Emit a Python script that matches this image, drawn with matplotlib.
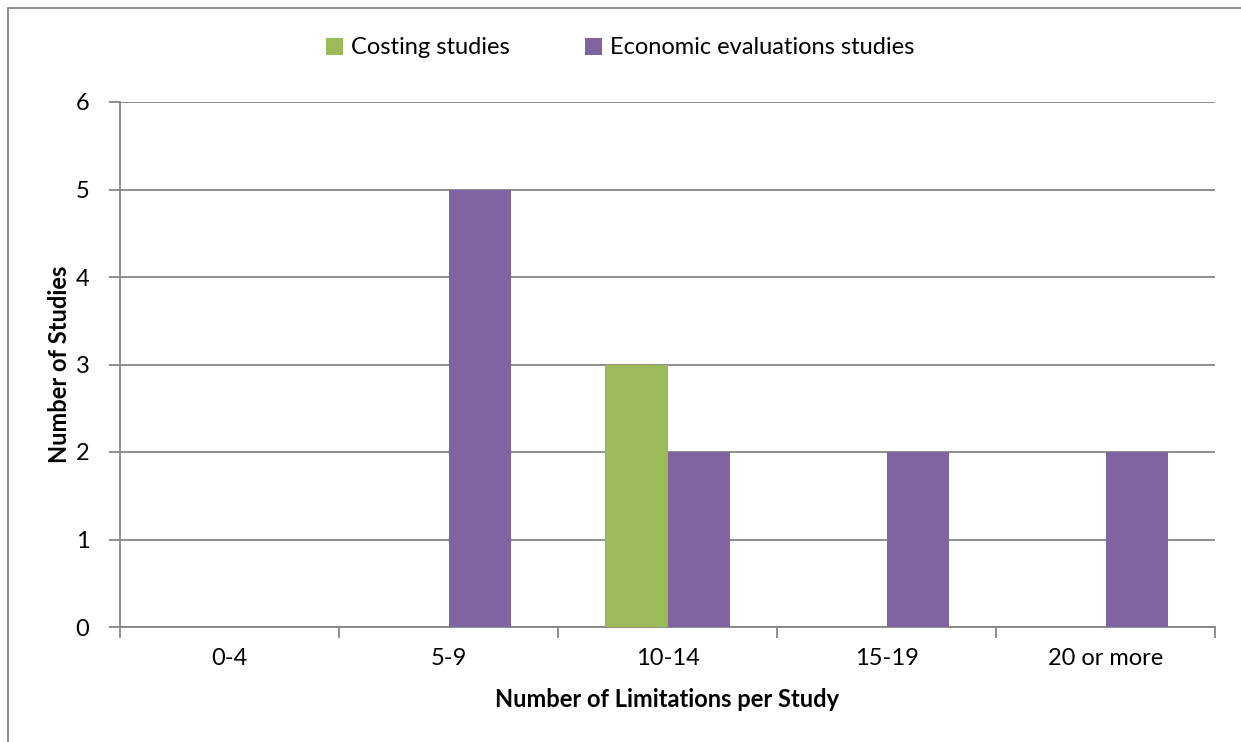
import numpy as np
import matplotlib.pyplot as plt
from matplotlib.patches import Rectangle

plt.rcParams['font.family'] = ['Lato', 'DejaVu Sans']

categories = ['0-4', '5-9', '10-14', '15-19', '20 or more']
costing = [0, 0, 3, 0, 0]
economic = [0, 5, 2, 2, 2]

green = '#9BBB59'
purple = '#8064A2'
grey = '#868686'
fs = 17

fig = plt.figure(figsize=(12.41, 7.42), dpi=100)
ax = fig.add_axes([120 / 1241, 115 / 742, 1095 / 1241, 525 / 742])

x = np.arange(len(categories))
w = 0.285
ax.bar(x - w / 2, costing, w, color=green, label='Costing studies', zorder=3)
ax.bar(x + w / 2, economic, w, color=purple, label='Economic evaluations studies', zorder=3)

ax.set_xlim(-0.5, len(categories) - 0.5)
ax.set_ylim(0, 6)
ax.set_yticks(range(7))
ax.yaxis.grid(True, color=grey, linewidth=1.3, zorder=0)

# category boundaries get tick marks, labels sit in the middle
ax.set_xticks(np.arange(-0.5, len(categories), 1))
ax.set_xticklabels([])
ax.set_xticks(x, minor=True)
ax.set_xticklabels(categories, minor=True)
ax.tick_params(axis='x', which='major', length=8, width=1.3, color=grey)
ax.tick_params(axis='x', which='minor', length=0, pad=15, labelsize=fs)
ax.tick_params(axis='y', length=8, width=1.3, color=grey, pad=14, labelsize=fs)

for side in ['top', 'right']:
    ax.spines[side].set_visible(False)
for side in ['left', 'bottom']:
    ax.spines[side].set_color(grey)
    ax.spines[side].set_linewidth(1.3)

ax.set_xlabel('Number of Limitations per Study', fontsize=fs, fontweight='bold', labelpad=14)
ax.set_ylabel('Number of Studies', fontsize=fs, fontweight='bold', labelpad=3)

fig.legend(loc='center', bbox_to_anchor=(0.5, 1 - 48 / 742), ncol=2, frameon=False,
           fontsize=fs, handlelength=0.7, handleheight=0.7, handletextpad=0.35,
           columnspacing=3.2)

# outer chart border (left and top visible)
fig.patches.append(Rectangle((8 / 1241, -0.1), 1.2, 1.1 - 8 / 742, transform=fig.transFigure,
                             fill=False, edgecolor=grey, linewidth=1.3))

fig.savefig('out.png', dpi=100)
